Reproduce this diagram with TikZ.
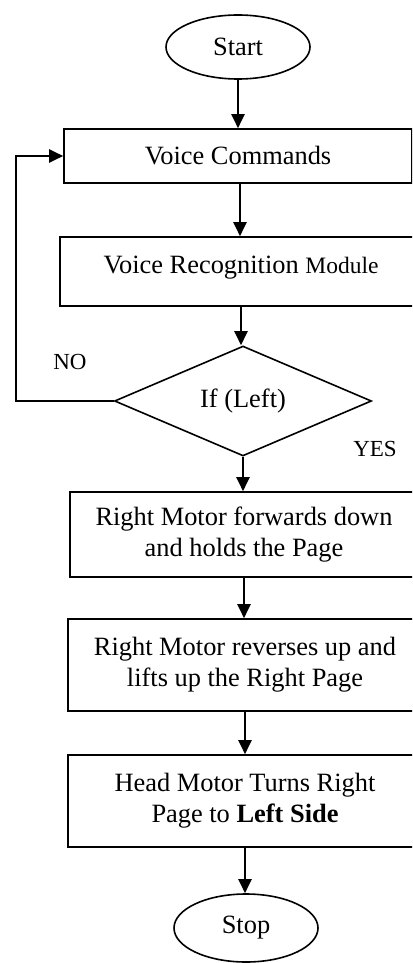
\documentclass[tikz,border=0pt]{standalone}
\usepackage{fontspec}
\setmainfont{Liberation Serif}
\usetikzlibrary{shapes.geometric,arrows.meta}

\newcommand{\bigsz}{\fontsize{26.4}{31}\selectfont}
\newcommand{\labsz}{\fontsize{23}{27}\selectfont}

\tikzset{
  stepbox/.style={draw, rectangle, line width=1.6pt, inner sep=0pt,
    align=center, font=\bigsz},
  term/.style={draw, ellipse, line width=1.6pt, inner sep=0pt,
    minimum width=144pt, font=\bigsz},
  decide/.style={draw, diamond, line width=1.6pt, inner sep=0pt,
    minimum width=257pt, minimum height=99pt, font=\bigsz},
  arr/.style={line width=2pt, -{Triangle[length=14pt,width=13pt]}},
  flowlabel/.style={font=\labsz, inner sep=0pt}
}

\begin{document}
\begin{tikzpicture}[x=1pt, y=-1pt]
  \useasboundingbox (0,0) rectangle (412,963);
  \clip (0,0) rectangle (412,963);

  % terminals
  \node[term, minimum height=64pt] (start) at (238,47) {Start};
  \node[term, minimum height=68pt] (stop) at (246,928) {Stop};

  % process boxes (their right sides run past the page edge)
  \node[stepbox, minimum width=348pt, minimum height=54pt] (vc) at (238,156) {Voice Commands};
  \node[stepbox, minimum width=362pt, minimum height=69pt, text depth=14pt] (vrm) at (241,271.5)
    {Voice Recognition {\fontsize{23.5}{28}\selectfont Module}};
  \node[decide] (dia) at (243,401) {If (Left)};
  \node[stepbox, minimum width=348pt, minimum height=85pt] (rmf) at (244,534.5)
    {Right Motor forwards down\\and holds the Page};
  \node[stepbox, minimum width=354pt, minimum height=92pt] (rmr) at (245,665)
    {Right Motor reverses up and\\lifts up the Right Page};
  \node[stepbox, minimum width=354pt, minimum height=92pt] (head) at (245,801)
    {Head Motor Turns Right\\Page to \textbf{Left Side}};

  % branch labels
  \node[flowlabel] (no) at (70,362) {NO};
  \node[flowlabel] (yes) at (375,449) {YES};

  % main flow
  \draw[arr] (start.south) -- (start.south |- vc.north);
  \draw[arr] ([xshift=2pt]vc.south) -- ([xshift=2pt]vc.south |- vrm.north);
  \draw[arr] (vrm.south) -- (vrm.south |- dia.north);
  \draw[arr] (dia.south) -- (dia.south |- rmf.north);
  \draw[arr] (rmf.south) -- (rmf.south |- rmr.north);
  \draw[arr] (rmr.south) -- (rmr.south |- head.north);
  \draw[arr] (head.south) -- (head.south |- stop.north);

  % NO branch back to the commands
  \coordinate (loopx) at (16,401);
  \draw[arr] (dia.west) -- (loopx) |- (vc.west);
\end{tikzpicture}
\end{document}
